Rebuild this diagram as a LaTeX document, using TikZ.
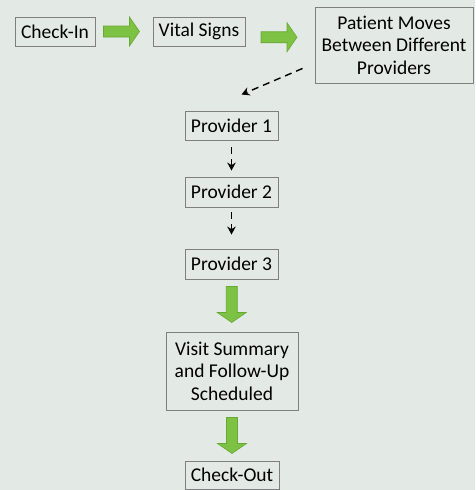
\documentclass[tikz,border=0pt]{standalone}
\usepackage{fontspec}
\setmainfont{Carlito}[Ligatures={NoCommon}]
\usetikzlibrary{calc,arrows.meta}
\definecolor{bg}{HTML}{E3E9E5}
\definecolor{boxline}{HTML}{7F7F7F}
\definecolor{grn}{HTML}{7DC242}
\definecolor{grnd}{HTML}{68A834}
\begin{document}
\begin{tikzpicture}[x=1pt,y=-1pt,
  box/.style={draw=boxline,line width=0.9pt,fill=bg,inner sep=0pt,align=center,
    font=\fontsize{19.5}{22.5}\selectfont,text=black},
  fatarr/.pic={\path[draw=grnd,line width=0.6pt,fill=grn]
    (-18,-5.5) -- (8,-5.5) -- (8,-14.5) -- (18,0) -- (8,14.5) -- (8,5.5) -- (-18,5.5) -- cycle;},
  dasharrow/.style={draw=black,line width=1.4pt,dash pattern=on 7pt off 5pt,
    -{Stealth[length=8pt,width=8.5pt]}}]
\fill[bg] (0,0) rectangle (475,490);
\useasboundingbox (0,0) rectangle (475,490);
\node[box,minimum width=80pt,minimum height=29pt] (checkin) at (55,31.5) {Check-In};
\node[box,minimum width=92pt,minimum height=29pt] (vital) at (199,31.5) {Vital Signs};
\node[box,minimum width=158pt,minimum height=76pt] (patient) at (394,45) {Patient Moves\\Between Different\\Providers};
\node[box,minimum width=93pt,minimum height=29pt] (p1) at (231.5,125.5) {Provider 1};
\node[box,minimum width=93pt,minimum height=30pt] (p2) at (231.5,192) {Provider 2};
\node[box,minimum width=93pt,minimum height=30pt] (p3) at (231.5,264) {Provider 3};
\node[box,minimum width=132pt,minimum height=78pt] (visit) at (232,371) {Visit Summary\\and Follow-Up\\Scheduled};
\node[box,minimum width=94pt,minimum height=28pt] (checkout) at (232,475) {Check-Out};
\coordinate (m1) at ($(checkin.east)!0.5!(vital.west)+(-2.5,0)$);
\coordinate (m2) at ($(vital.east)!0.5!(patient.west)+(-1,-1)$);
\coordinate (m3) at ($(p3.south)!0.5!(visit.north)+(0,-1)$);
\coordinate (m4) at ($(visit.south)!0.5!(checkout.north)$);
\pic at (m1) {fatarr};
\pic at (m2) {fatarr};
\pic[rotate=-90] at (m3) {fatarr};
\pic[rotate=-90] at (m4) {fatarr};
\draw[dasharrow] ($(patient.south west)+(-12,-15)$) -- ($(p1.north)+(10,-16)$);
\draw[dasharrow] ($(p1.south)+(0,7)$) -- ($(p2.north)+(0,-6)$);
\draw[dasharrow] ($(p2.south)+(0,5)$) -- ($(p3.north)+(0,-14)$);
\end{tikzpicture}
\end{document}
